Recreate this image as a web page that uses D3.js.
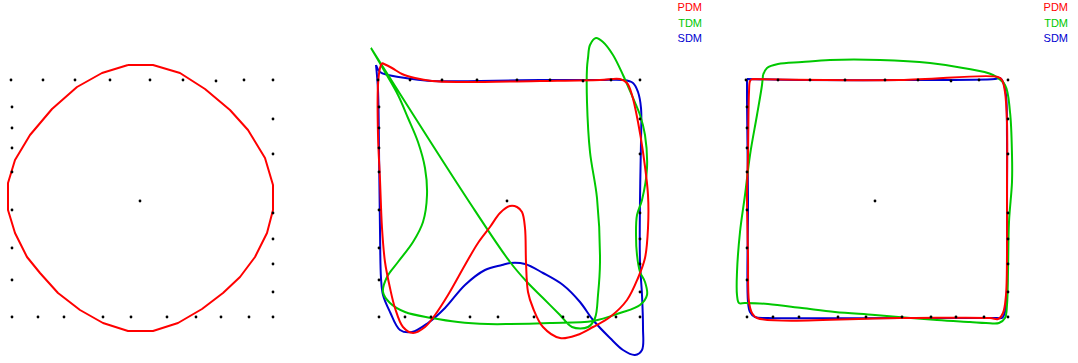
<!DOCTYPE html>
<html>
<head>
<meta charset="utf-8">
<script src="https://cdn.jsdelivr.net/npm/d3@7"></script>
<style>
  html, body { margin: 0; padding: 0; background: #fff; }
  svg { display: block; }
  text { font-family: "Liberation Sans", Arial, sans-serif; }
</style>
</head>
<body>
<svg id="chart" width="1078" height="363"></svg>
<script>
// Sample points on the square boundary (shared by all three panels), plus the centre
const pointX = [0, 32, 64, 99, 139, 172, 205, 233, 262,
                1, 1, 1, 1, 1, 1, 1,
                1, 27, 53, 92, 120, 156, 185, 210, 238, 262,
                262, 262, 262, 262, 262, 262,
                129];
const pointY = [238, 238, 238, 238, 238, 238, 237, 238, 238,
                211, 190, 170, 146, 108, 70, 38,
                1, 1, 1, 1, 1, 1, 1, 1, 1, 1,
                199, 164, 105, 79, 54, 26,
                117];

// Panel 1: fitted closed contour
const circleX = [117, 142, 169, 194, 219, 237, 254, 262, 262, 256, 244, 229, 212, 191, 167, 142, 117, 92, 69, 47, 29, 16, 4, -3, -3, 4, 19, 41, 66, 91, 117];
const circleY = [253, 253, 245, 229, 208, 188, 160, 133, 108, 85, 61, 41, 25, 9, -5, -13, -13, -5, 8, 25, 45, 61, 85, 108, 135, 158, 183, 209, 231, 245, 253];

// Panel 2: SDM contour
const sdm2X = [-2, 2, 10, 34, 54, 102, 162, 222, 245, 255, 260, 263, 263, 262, 262, 264, 265, 264, 257, 245, 232, 215, 202, 185, 165, 147, 132, 124, 107, 87, 67, 50, 34, 22, 12, 5, 3, 2, 1, 0, -2];
const sdm2Y = [253, 246, 243, 239, 237, 237, 238, 238, 238, 235, 226, 210, 176, 118, 56, 23, -10, -32, -37, -32, -20, -2, 16, 33, 45, 54, 55, 53, 48, 33, 10, -5, -14, -12, 6, 23, 40, 88, 168, 228, 253];

// Panel 2: TDM contour
const tdm2X = [-7, 90, 132, 149, 165, 182, 194, 210, 217, 220, 222, 219, 212, 209, 209, 210, 212, 218, 225, 235, 245, 255, 262, 267, 269, 264, 259, 258, 259, 262, 267, 269, 262, 242, 215, 172, 132, 110, 80, 54, 27, 12, 5, 9, 20, 35, 45, 49, 47, 40, 30, 20, 7, -7];
const tdm2Y = [270, 118, 56, 36, 20, 3, -9, -9, 0, 23, 56, 120, 166, 216, 250, 260, 273, 280, 276, 263, 243, 220, 203, 183, 150, 118, 103, 83, 63, 46, 36, 23, 13, 5, -3, -5, -6, -6, -4, 0, 6, 15, 26, 41, 56, 76, 96, 123, 150, 176, 200, 223, 246, 270];

// Panel 2: PDM contour
const pdm2X = [4, 14, 24, 37, 54, 82, 162, 222, 242, 249, 254, 260, 265, 270, 270, 267, 260, 249, 232, 215, 199, 182, 165, 155, 150, 148, 147, 144, 139, 132, 122, 112, 100, 87, 70, 57, 47, 35, 25, 17, 12, 7, 4, 2, 0, 0, 2, 4];
const pdm2Y = [255, 250, 244, 240, 237, 236, 237, 238, 239, 235, 223, 196, 166, 123, 90, 60, 40, 18, 1, -9, -17, -20, -9, 10, 26, 56, 90, 106, 111, 112, 105, 91, 75, 53, 23, 3, -9, -15, -9, 10, 30, 56, 90, 138, 183, 233, 250, 255];

// Panel 3: SDM contour
const sdm3X = [1, 54, 154, 249, 254, 257, 260, 261, 261, 261, 259, 256, 251, 154, 22, 9, 4, 2, 2, 1, 1];
const sdm3Y = [239, 238, 238, 239, 240, 236, 223, 180, 96, 30, 6, 0, 0, 0, 0, 1, 6, 16, 118, 218, 239];

// Panel 3: TDM contour
const tdm3X = [17, 21, 32, 56, 84, 134, 184, 217, 247, 259, 264, 266, 266, 263, 262, 261, 259, 253, 240, 224, 191, 129, 89, 56, 22, -1, -7, -9, -9, -6, -1, 4, 11, 16, 17];
const tdm3Y = [243, 250, 254, 256, 258, 258, 255, 250, 243, 233, 206, 163, 136, 96, 46, 13, 0, -5, -5, -4, -2, 3, 6, 10, 14, 15, 15, 23, 46, 86, 123, 163, 203, 233, 243];

// Panel 3: PDM contour
const pdm3X = [6, 154, 252, 256, 259, 261, 261, 261, 260, 257, 252, 244, 154, 11, 6, 3, 2, 1, 2, 3, 4, 6];
const pdm3Y = [239, 238, 241, 238, 226, 196, 130, 63, 23, 5, -1, 0, 0, 0, 5, 16, 63, 123, 163, 226, 237, 239];

// Legend entries
const legendLabels = ["PDM", "TDM", "SDM"];
const colors = { PDM: "#ff0000", TDM: "#00c800", SDM: "#0000d0" };

const svg = d3.select("#chart");
svg.append("rect").attr("width", 1078).attr("height", 363).attr("fill", "#fff");

const zip = (xs, ys) => xs.map((x, i) => [x, ys[i]]);
const points = zip(pointX, pointY);

const panels = [
  { left: 11, curves: [{ name: "PDM", x: circleX, y: circleY }], legend: false, smooth: false },
  { left: 378, curves: [
      { name: "SDM", x: sdm2X, y: sdm2Y },
      { name: "TDM", x: tdm2X, y: tdm2Y },
      { name: "PDM", x: pdm2X, y: pdm2Y }
    ], legend: true, legendRight: 702, smooth: true },
  { left: 746, curves: [
      { name: "SDM", x: sdm3X, y: sdm3Y },
      { name: "TDM", x: tdm3X, y: tdm3Y },
      { name: "PDM", x: pdm3X, y: pdm3Y }
    ], legend: true, legendRight: 1068, smooth: true }
];

panels.forEach(p => {
  const x = d3.scaleLinear().domain([0, 262]).range([p.left, p.left + 262]);
  const y = d3.scaleLinear().domain([0, 238]).range([318, 80]);
  const g = svg.append("g");

  const line = d3.line()
    .x(d => x(d[0]))
    .y(d => y(d[1]))
    .curve(p.smooth ? d3.curveCatmullRom.alpha(0.5) : d3.curveLinear);

  p.curves.forEach(c => {
    g.append("path")
      .datum(zip(c.x, c.y))
      .attr("d", line)
      .attr("fill", "none")
      .attr("stroke", colors[c.name])
      .attr("stroke-width", 2)
      .attr("stroke-linejoin", "round");
  });

  g.selectAll("circle.pt")
    .data(points)
    .join("circle")
    .attr("class", "pt")
    .attr("cx", d => x(d[0]))
    .attr("cy", d => y(d[1]))
    .attr("r", 1.4)
    .attr("fill", "#000");

  if (p.legend) {
    g.selectAll("text.lg")
      .data(legendLabels)
      .join("text")
      .attr("class", "lg")
      .attr("x", p.legendRight)
      .attr("y", (d, i) => 11 + i * 15.5)
      .attr("text-anchor", "end")
      .attr("font-size", 11)
      .attr("fill", d => colors[d])
      .text(d => d);
  }
});
</script>
</body>
</html>
